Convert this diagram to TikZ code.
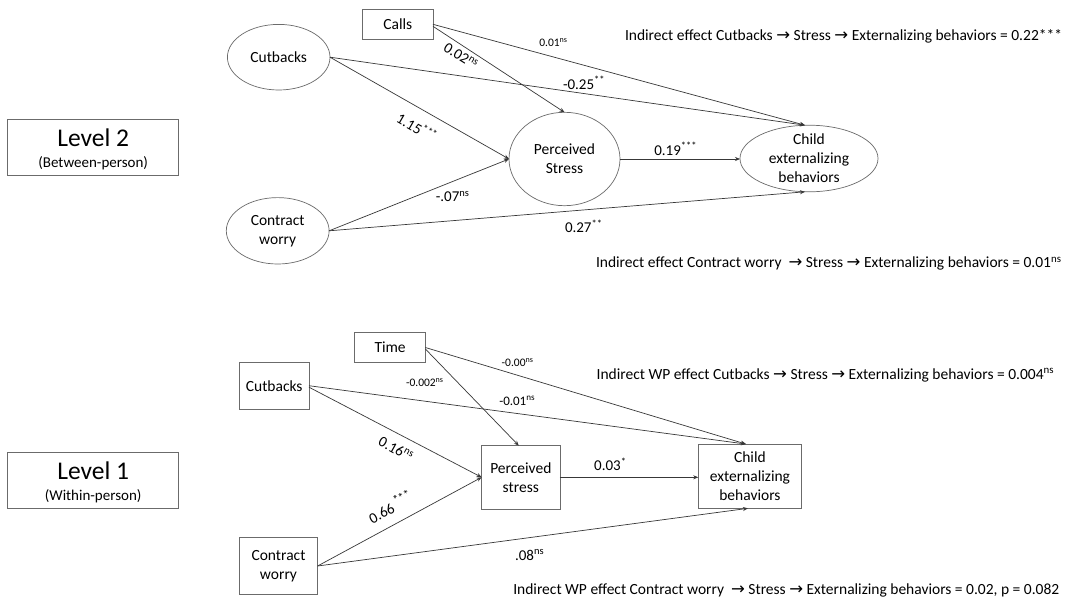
\documentclass[tikz,border=0pt]{standalone}
\usepackage{fontspec}
\setmainfont{Carlito}
\newfontfamily\arrfont{DejaVu Sans}
\usetikzlibrary{arrows.meta,shapes.geometric}
\newcommand\rarr{{\arrfont\fontsize{16.5}{16.5}\selectfont →}}
\newcommand\sig[1]{\textsuperscript{#1}}
\definecolor{boxgray}{gray}{0.42}
\definecolor{linegray}{gray}{0.22}
\begin{document}
\begin{tikzpicture}[x=1pt,y=-1pt,
  every node/.style={inner sep=0pt, outer sep=0pt},
  txt/.style={font=\fontsize{15.5}{19}\selectfont, align=center},
  ell/.style={draw=boxgray, line width=0.7pt, ellipse},
  rbox/.style={draw=boxgray, line width=0.7pt, rectangle},
  lvlbox/.style={draw=boxgray, line width=0.8pt, rectangle, minimum width=171, minimum height=55.6},
  conn/.style={draw=linegray, line width=0.7pt, -{Stealth[length=5pt,width=4pt]}},
  lbl/.style={font=\fontsize{15}{15}\selectfont},
  lblm/.style={font=\fontsize{13}{13}\selectfont},
  lbls/.style={font=\fontsize{11.5}{11.5}\selectfont},
  ind/.style={font=\fontsize{15.5}{15.5}\selectfont, anchor=west}
]
\fill[white] (0,0) rectangle (1078,602);
\useasboundingbox (0,0) rectangle (1078,602);

% ---------------- Level 2 ----------------
\node[lvlbox] (lvl2) at (93.2,147.2) {};
\node[font=\fontsize{25.5}{25.5}\selectfont] (lvl2a) at (93.2,138) {Level 2};
\node[font=\fontsize{15}{15}\selectfont] (lvl2b) at (93.2,163.3) {(Between-person)};

\node[rbox, minimum width=70.3, minimum height=30, txt] (calls) at (397.8,24.3) {Calls};
\node[ell, minimum width=102.6, minimum height=65.6, label={[txt]center:Cutbacks}] (cut2) at (278.7,57.2) {};
\node[ell, minimum width=102.8, minimum height=66.4, label={[txt]center:Contract\\worry}] (con2) at (277.7,230.8) {};
\node[ell, minimum width=111, minimum height=93.4, label={[txt]center:Perceived\\Stress}] (ps2) at (564.5,159) {};
\node[ell, minimum width=138, minimum height=66.6, label={[txt]center:Child\\externalizing\\behaviors}] (ch2) at (809,158.5) {};

\draw[conn] (calls.east) -- ([xshift=-4pt]ch2.north);
\draw[conn] ([yshift=-2pt]calls.east) -- (ps2.north);
\draw[conn] (cut2.east) -- ([xshift=-4pt]ch2.north);
\draw[conn] (cut2.east) -- (ps2.west);
\draw[conn] (con2.east) -- (ps2.west);
\draw[conn] (con2.east) -- ([xshift=-4pt]ch2.south);
\draw[conn] (ps2.east) -- (ps2.east -| ch2.west);

\node[lbls, anchor=base west] (l01) at (539.3,46.7) {0.01\sig{ns}};
\node[lbl, rotate=-32] (l02) at (461,56) {0.02\sig{ns}};
\node[lbl, anchor=base west] (l25) at (563,89) {-0.25\sig{**}};
\node[lbl, rotate=-30] (l115) at (417,127) {1.15\sig{***}};
\node[lbl, anchor=base west] (l07) at (435.8,201.7) {-.07\sig{ns}};
\node[lbl, anchor=base west] (l19) at (654.3,155) {0.19\sig{***}};
\node[lbl, anchor=base west] (l27) at (565,232.3) {0.27\sig{**}};

\node[ind] (ind1) at (625,36.3) {Indirect effect Cutbacks \rarr{} Stress \rarr{} Externalizing behaviors = 0.22***};
\node[ind] (ind2) at (596,263.3) {Indirect effect Contract worry \ \rarr{} Stress \rarr{} Externalizing behaviors = 0.01\sig{ns}};

% ---------------- Level 1 ----------------
\node[lvlbox] (lvl1) at (93.2,480.5) {};
\node[font=\fontsize{25.5}{25.5}\selectfont] (lvl1a) at (93.2,470.5) {Level 1};
\node[font=\fontsize{15}{15}\selectfont] (lvl1b) at (93.2,496) {(Within-person)};

\node[rbox, minimum width=70.6, minimum height=29.6, txt] (time) at (390.1,347.5) {Time};
\node[rbox, minimum width=69.6, minimum height=46.7, txt] (cut1) at (274.2,385.7) {Cutbacks};
\node[rbox, minimum width=78.2, minimum height=57.4, txt] (con1) at (278.5,566) {Contract\\worry};
\node[rbox, minimum width=78.3, minimum height=63.3, txt] (ps1) at (520.8,477.3) {Perceived\\stress};
\node[rbox, minimum width=103.3, minimum height=64.3, txt] (ch1) at (749.9,476.2) {Child\\externalizing\\behaviors};

\draw[conn] (time.east) -- ([xshift=-4pt]ch1.north);
\draw[conn] ([yshift=-1.5pt]time.east) -- ([xshift=-2pt]ps1.north);
\draw[conn] (cut1.east) -- ([xshift=-4pt]ch1.north);
\draw[conn] ([yshift=-1.5pt]cut1.east) -- (ps1.west);
\draw[conn] (con1.east) -- (ps1.west);
\draw[conn] (con1.east) -- ([xshift=-2pt]ch1.south);
\draw[conn] (ps1.east) -- (ps1.east -| ch1.west);

\node[lbls, anchor=base west] (m00) at (501.7,366.7) {-0.00\sig{ns}};
\node[lbls, anchor=base west] (m002) at (406,386.7) {-0.002\sig{ns}};
\node[lblm, anchor=base west] (m01) at (499.3,405) {-0.01\sig{ns}};
\node[lbl, rotate=-29] (m16) at (396,449) {0.16\sig{ns}};
\node[lbl, rotate=28, anchor=base west] (m66) at (372.3,524) {0.66\hspace{3pt}\raisebox{6pt}{\fontsize{12}{12}\selectfont ***}};
\node[lbl, anchor=base west] (m08) at (515,560) {.08\sig{ns}};
\node[lbl, anchor=base west] (m03) at (594.2,470.7) {0.03\sig{*}};

\node[ind] (ind3) at (596.6,375) {Indirect WP effect Cutbacks \rarr{} Stress \rarr{} Externalizing behaviors = 0.004\sig{ns}};
\node[ind] (ind4) at (513.3,590) {Indirect WP effect Contract worry \ \rarr{} Stress \rarr{} Externalizing behaviors = 0.02, p = 0.082};
\end{tikzpicture}
\end{document}
